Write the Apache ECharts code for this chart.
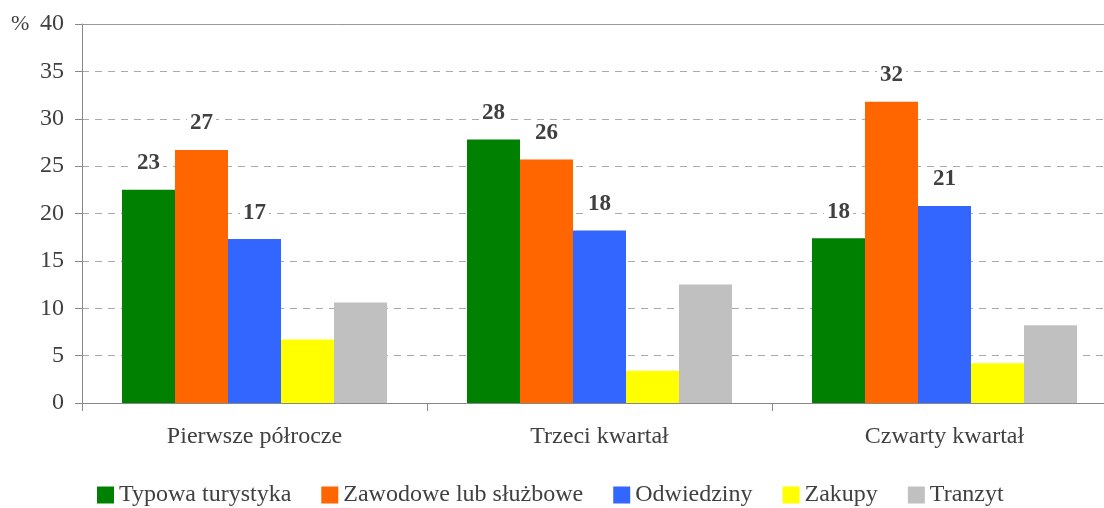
<!DOCTYPE html>
<html><head><meta charset="utf-8">
<script src="https://cdn.jsdelivr.net/npm/echarts@6/dist/echarts.min.js"></script>
<style>html,body{margin:0;padding:0;background:#fff}#c{width:1104px;height:508px}</style>
</head><body><div id="c"></div>
<script>
var categories = ['Pierwsze półrocze', 'Trzeci kwartał', 'Czwarty kwartał'];
var seriesNames = ['Typowa turystyka', 'Zawodowe lub służbowe', 'Odwiedziny', 'Zakupy', 'Tranzyt'];
var typowa = [22.5, 27.8, 17.4];
var zawodowe = [26.7, 25.7, 31.8];
var odwiedziny = [17.3, 18.2, 20.8];
var zakupy = [6.7, 3.4, 4.2];
var tranzyt = [10.6, 12.5, 8.2];
var labelTexts = [[23, 28, 18], [27, 26, 32], [17, 18, 21]];
var colors = ['#008000', '#ff6600', '#3366ff', '#ffff00', '#c0c0c0'];
var yTicks = [0, 40, 5];

var values = [typowa, zawodowe, odwiedziny, zakupy, tranzyt];
var font = '"Liberation Serif", "DejaVu Serif", serif';
var series = values.map(function (v, i) {
  var s = {
    name: seriesNames[i], type: 'bar', data: v, barWidth: 53, barGap: '0%',
    itemStyle: { color: colors[i] }
  };
  if (i < 3) {
    s.label = {
      show: true, position: 'top', distance: 15,
      formatter: function (p) { return labelTexts[i][p.dataIndex]; },
      fontFamily: font, fontWeight: 'bold', fontSize: 23, color: '#404040',
      backgroundColor: '#fff', padding: [0, 3]
    };
  }
  if (i === 0) {
    s.markLine = {
      silent: true, symbol: 'none', label: { show: false },
      lineStyle: { type: 'solid', color: '#999', width: 1 },
      data: [{ yAxis: 40 }], animation: false
    };
  }
  return s;
});

var chart = echarts.init(document.getElementById('c'));
chart.setOption({
  animation: false,
  color: colors,
  textStyle: { fontFamily: font },
  grid: { left: 82, width: 1035, top: 24, height: 379, containLabel: false, outerBoundsMode: 'none' },
  graphic: [{ type: 'text', left: 11, top: 13, style: { text: '%', font: '22px ' + font, fill: '#404040' } }],
  legend: {
    top: 478, left: 92, itemWidth: 17, itemHeight: 17, itemGap: 30,
    icon: 'rect',
    textStyle: { fontFamily: font, fontSize: 24, color: '#404040' },
    data: seriesNames
  },
  xAxis: {
    type: 'category', data: categories,
    axisLine: { lineStyle: { color: '#888' } },
    axisTick: { show: true, length: 8, lineStyle: { color: '#888' } },
    axisLabel: { fontFamily: font, fontSize: 24, color: '#404040', margin: 22 }
  },
  yAxis: {
    type: 'value', min: yTicks[0], max: yTicks[1], interval: yTicks[2],
    axisLine: { show: true, lineStyle: { color: '#888' } },
    axisTick: { show: true, length: 7, lineStyle: { color: '#888' } },
    axisLabel: { fontFamily: font, fontSize: 24, color: '#404040', margin: 18 },
    splitLine: { show: true, lineStyle: { type: [7, 6], color: '#aaa' } }
  },
  series: series
});
</script></body></html>
